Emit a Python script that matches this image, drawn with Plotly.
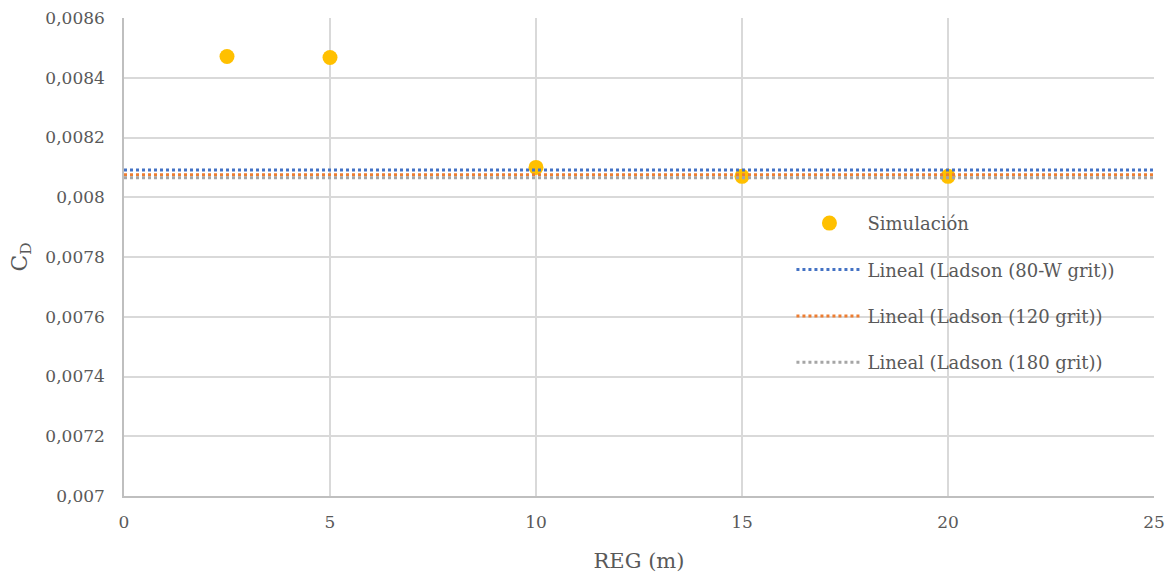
import plotly.graph_objects as go

# Simulation results: drag coefficient vs roughness element height
reg = [2.5, 5, 10, 15, 20]
cd_sim = [0.008471, 0.008468, 0.008100, 0.008070, 0.008070]

# Linear trend lines of Ladson's grit data (flat over the whole range)
trend_x = [0, 25]
ladson_80w = 0.008091
ladson_120 = 0.008075
ladson_180 = 0.008065

y_ticks = [0.007, 0.0072, 0.0074, 0.0076, 0.0078, 0.008, 0.0082, 0.0084, 0.0086]
y_tick_text = ["0,007", "0,0072", "0,0074", "0,0076", "0,0078", "0,008", "0,0082", "0,0084", "0,0086"]
x_ticks = [0, 5, 10, 15, 20, 25]

font_family = "DejaVu Serif"
text_color = "#595959"

fig = go.Figure()

fig.add_trace(go.Scatter(
    x=reg, y=cd_sim, mode="markers", name="Simulación",
    marker=dict(color="#FFC000", size=15, line=dict(width=0)),
    legendgroup="a",
))

for name, val, color, grp in [
    ("Lineal (Ladson (80-W grit))", ladson_80w, "#4472C4", "b"),
    ("Lineal (Ladson (120 grit))", ladson_120, "#ED7D31", "c"),
    ("Lineal (Ladson (180 grit))", ladson_180, "#A5A5A5", "d"),
]:
    fig.add_trace(go.Scatter(
        x=trend_x, y=[val, val], mode="lines", name=name,
        line=dict(color=color, width=3, dash="dot"),
        legendgroup=grp,
    ))

legend_font = dict(size=18, color=text_color, family=font_family)
tick_font = dict(size=17, color=text_color, family=font_family)

fig.update_layout(
    width=1173, height=576,
    margin=dict(l=124, r=19, t=18, b=80, autoexpand=False),
    plot_bgcolor="white", paper_bgcolor="white",
    font=dict(family=font_family, color=text_color, size=17),
    showlegend=True,
    legend=dict(
        x=0.648, y=0.609, xanchor="left", yanchor="top",
        bgcolor="rgba(255,255,255,0)",
        font=legend_font,
        tracegroupgap=20, itemwidth=66,
    ),
    xaxis=dict(
        range=[0, 25], tickvals=x_ticks, automargin=False,
        showgrid=True, gridcolor="#D9D9D9", gridwidth=1.5,
        showline=True, linecolor="#BFBFBF", linewidth=1.5,
        zeroline=False, ticks="",
        tickfont=tick_font, ticklabelstandoff=10,
        title=dict(text="REG (m)", font=dict(size=21, color=text_color, family=font_family), standoff=22),
    ),
    yaxis=dict(
        range=[0.007, 0.0086], tickvals=y_ticks, ticktext=y_tick_text, automargin=False,
        showgrid=True, gridcolor="#D9D9D9", gridwidth=1.5,
        showline=True, linecolor="#BFBFBF", linewidth=1.5,
        zeroline=False, ticks="",
        tickfont=tick_font, ticklabelstandoff=14,
        title=dict(text="C<sub>D</sub>", font=dict(size=22, color=text_color, family=font_family), standoff=12),
    ),
)

fig.write_html("out.html")
